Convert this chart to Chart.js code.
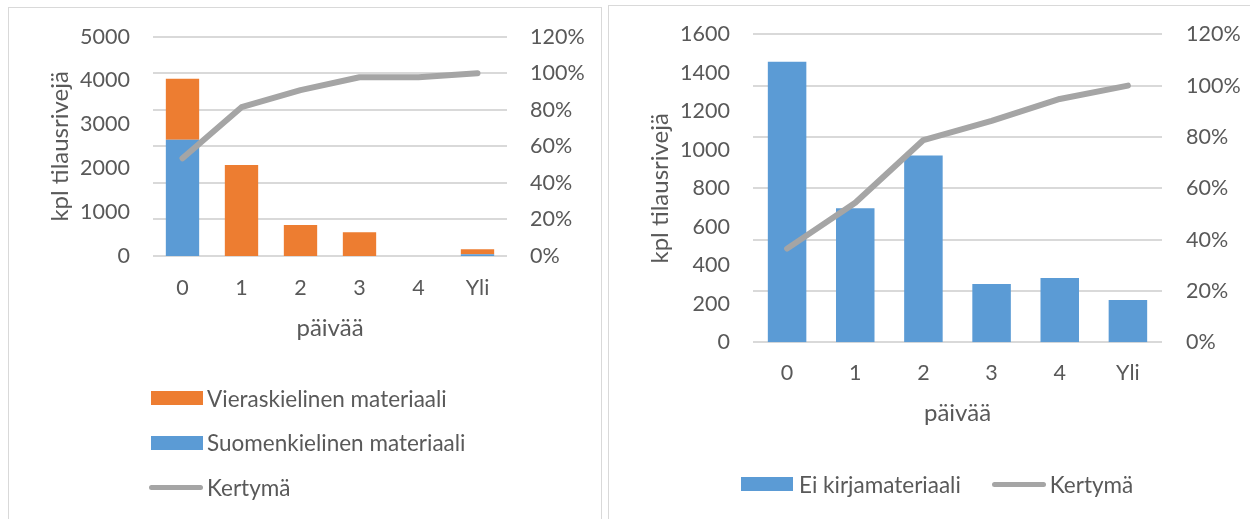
<!DOCTYPE html>
<html lang="fi">
<head>
<meta charset="utf-8">
<title>Tilausrivit päivittäin</title>
<script src="https://cdn.jsdelivr.net/npm/chart.js@4.4.1/dist/chart.umd.min.js"></script>
<style>
  html, body { margin: 0; overflow: hidden; background: #fff; }
  body { font-family: Lato, sans-serif; color: #595959; }
  .panel { position: absolute; border: 1px solid #d9d9d9; box-sizing: border-box; }
  .chart-box { position: absolute; }
  .legend { position: absolute; font-size: 22.5px; white-space: nowrap; }
  .legend .item { display: flex; align-items: center; }
  .swatch-bar { width: 52px; height: 14px; }
  .swatch-line { width: 54px; height: 5px; border-radius: 3px; }
</style>
</head>
<body>
<div class="panel" style="left:8px; top:7px; width:594px; height:540px;"></div>
<div class="panel" style="left:608px; top:5px; width:660px; height:540px;"></div>
<div class="chart-box" style="left:8px; top:7px; width:593px; height:512px;"><canvas id="leftChart"></canvas></div>
<div class="chart-box" style="left:608px; top:5px; width:642px; height:514px;"><canvas id="rightChart"></canvas></div>
<div id="leftLegend" class="legend" style="left:149px; top:376px;"></div>
<div id="rightLegend" class="legend" style="left:741px; top:462px;"></div>

<script>
// categories: delivery time in days
const days = ['0', '1', '2', '3', '4', 'Yli'];

// left chart: book orders split by language
const suomenkielinen = [2650, 0, 0, 0, 0, 40];
const vieraskielinen = [1390, 2075, 707, 540, 0, 113];
const kertymaKirjat = [53.5, 81.4, 90.8, 97.8, 97.8, 100];

// right chart: non-book orders
const eiKirjamateriaali = [1458, 696, 971, 303, 334, 220];
const kertymaMuut = [36.5, 54.4, 78.8, 86.3, 94.8, 100];

// axis ranges
const leftCountMax = 5000, leftCountStep = 1000;
const rightCountMax = 1600, rightCountStep = 200;
const percentMax = 120, percentStep = 20;

const BLUE = '#5b9bd5';
const ORANGE = '#ed7d31';
const GREY = '#a5a5a5';
const TEXT = '#595959';

const tickFont = { family: 'Lato', size: 21.5 };
const titleFont = { family: 'Lato', size: 24 };

function barSet(label, data, color) {
    return {
        label, data,
        backgroundColor: color,
        yAxisID: 'y',
        order: 1,
        barPercentage: 0.565,
        categoryPercentage: 1
    };
}

function lineSet(data) {
    return {
        type: 'line',
        label: 'Kertymä',
        data,
        yAxisID: 'y1',
        order: 0,
        borderColor: GREY,
        backgroundColor: GREY,
        borderWidth: 6,
        borderCapStyle: 'round',
        borderJoinStyle: 'round',
        pointRadius: 0,
        tension: 0
    };
}

// fixed axis width; the tick padding should not push the plot area down
function fixWidth(width) {
    return s => {
        s.width = width;
        s.paddingTop = 0;
        s.paddingBottom = 0;
    };
}

function buildChart(canvasId, datasets, cfg) {
    return new Chart(document.getElementById(canvasId), {
        type: 'bar',
        data: { labels: days, datasets },
        options: {
            responsive: true,
            maintainAspectRatio: false,
            animation: false,
            layout: { padding: { top: cfg.top, bottom: cfg.bottom, left: 0, right: 0 } },
            plugins: { legend: { display: false }, tooltip: { enabled: false } },
            scales: {
                x: {
                    stacked: cfg.stacked,
                    grid: { display: false, drawTicks: false },
                    border: { display: false },
                    ticks: { color: TEXT, font: tickFont, padding: cfg.xTickPad, maxRotation: 0 },
                    title: { display: true, text: 'päivää', color: TEXT, font: titleFont, padding: 0 },
                    afterFit: s => { s.height = cfg.xHeight; }
                },
                y: {
                    stacked: cfg.stacked,
                    min: 0,
                    max: cfg.countMax,
                    grid: { display: false, drawTicks: false },
                    border: { display: false },
                    ticks: { stepSize: cfg.countStep, color: TEXT, font: tickFont, padding: 23, callback: v => String(v) },
                    title: { display: true, text: 'kpl tilausrivejä', color: TEXT, font: titleFont, padding: { top: 37.6, bottom: 0 } },
                    afterFit: fixWidth(145)
                },
                y1: {
                    position: 'right',
                    min: 0,
                    max: percentMax,
                    grid: { color: '#d9d9d9', lineWidth: 2, drawTicks: false },
                    border: { display: false },
                    ticks: { stepSize: percentStep, color: TEXT, font: tickFont, padding: cfg.y1Pad, callback: v => v + '%' },
                    afterFit: fixWidth(cfg.y1Width)
                }
            }
        }
    });
}

// html legend built from the chart's datasets
function buildLegend(elId, chart, labels, row) {
    const box = document.getElementById(elId);
    if (row) box.style.display = 'flex';
    labels.forEach((label, i) => {
        const ds = chart.data.datasets.find(d => d.label === label);
        const item = document.createElement('div');
        item.className = 'item';
        item.style.height = row ? '44px' : '44.5px';
        const sw = document.createElement('span');
        const isLine = ds.type === 'line';
        sw.className = isLine ? 'swatch-line' : 'swatch-bar';
        sw.style.background = isLine ? ds.borderColor : ds.backgroundColor;
        sw.style.marginLeft = (!row && !isLine) ? '2px' : '0';
        sw.style.marginRight = (row && !isLine) ? '6px' : '4px';
        const txt = document.createElement('span');
        txt.textContent = label;
        item.appendChild(sw);
        item.appendChild(txt);
        if (row && i < labels.length - 1) item.style.marginRight = '31px';
        box.appendChild(item);
    });
}

const leftChart = buildChart('leftChart', [
    lineSet(kertymaKirjat),
    barSet('Suomenkielinen materiaali', suomenkielinen, BLUE),
    barSet('Vieraskielinen materiaali', vieraskielinen, ORANGE)
], {
    stacked: true,
    countMax: leftCountMax, countStep: leftCountStep,
    top: 29.7, bottom: 176.6,
    xTickPad: 19.1, xHeight: 86.4,
    y1Pad: 23, y1Width: 94
});

const rightChart = buildChart('rightChart', [
    lineSet(kertymaMuut),
    barSet('Ei kirjamateriaali', eiKirjamateriaali, BLUE)
], {
    stacked: false,
    countMax: rightCountMax, countStep: rightCountStep,
    top: 29.3, bottom: 91.6,
    xTickPad: 17.8, xHeight: 85.1,
    y1Pad: 24, y1Width: 88
});

buildLegend('leftLegend', leftChart, ['Vieraskielinen materiaali', 'Suomenkielinen materiaali', 'Kertymä'], false);
buildLegend('rightLegend', rightChart, ['Ei kirjamateriaali', 'Kertymä'], true);
</script>
</body>
</html>
